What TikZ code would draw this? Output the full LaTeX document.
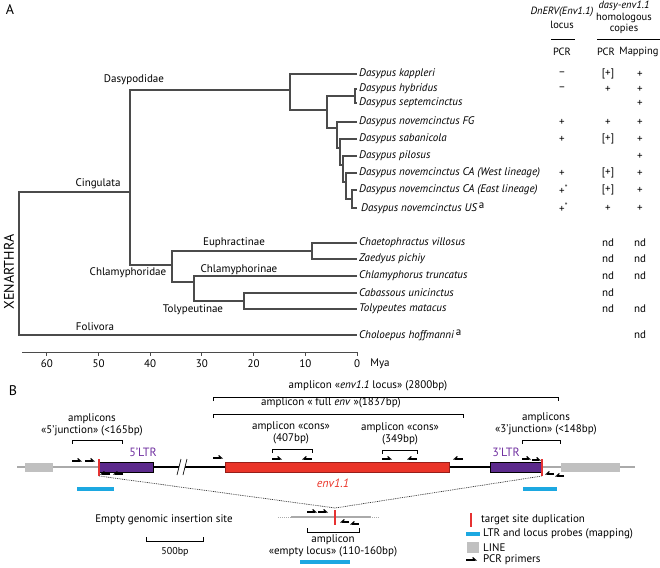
\documentclass[tikz,border=0pt]{standalone}
\usepackage{fontspec}
\setmainfont{PT Sans}
\usetikzlibrary{arrows.meta}
\definecolor{treegray}{RGB}{75,75,75}
\definecolor{ltrpurple}{RGB}{92,42,140}
\definecolor{ltrtext}{RGB}{112,48,160}
\definecolor{envred}{RGB}{234,52,40}
\definecolor{envedge}{RGB}{150,30,25}
\definecolor{probeblue}{RGB}{28,168,225}
\definecolor{linegray}{RGB}{192,192,192}
\definecolor{flankgray}{RGB}{170,170,170}
\definecolor{tsdred}{RGB}{230,50,50}
\begin{document}
\begin{tikzpicture}[x=1pt,y=-1pt,
  every node/.style={inner sep=0pt, font=\fontsize{11}{12.5}\selectfont},
  branch/.style={draw=treegray, line width=1.1pt},
  tip/.style={anchor=west, font=\fontsize{11}{12.5}\selectfont\itshape},
  hdr/.style={font=\fontsize{10.5}{12}\selectfont},
  big/.style={font=\fontsize{14}{16}\selectfont},
  rulestyle/.style={draw=black, line width=0.7pt},
  bracket/.style={draw=black, line width=0.8pt},
  primer/.style={line width=1.2pt, -{Straight Barb[harpoon,length=2.8pt,width=5pt]}},
  rprimer/.style={line width=1.2pt, -{Straight Barb[harpoon,swap,length=2.8pt,width=5pt]}},
  flank/.style={draw=flankgray, line width=1.5pt},
  core/.style={draw=black, line width=2.4pt},
  ltrbox/.style={draw=black, line width=0.5pt, fill=ltrpurple},
  envbox/.style={draw=envedge, line width=0.5pt, fill=envred},
  probe/.style={draw=probeblue, line width=3.3pt},
  tsd/.style={draw=tsdred, line width=1.2pt},
  dotline/.style={draw=black!80, line width=0.7pt, dash pattern=on 0.9pt off 0.9pt},
  ltrlabel/.style={text=ltrtext, font=\fontsize{12}{14}\selectfont},
]
\useasboundingbox (0,0) rectangle (660,567);

% ---------------- Panel A ----------------
\node[big] (labA) at (10,10) {A};

% headers
\node[hdr] (h1) at (562,12) {\itshape DnERV(Env1.1)};
\node[hdr] (h2) at (562,25) {locus};
\coordinate (r1a) at (551,39); \coordinate (r1b) at (575,39);
\draw[rulestyle] (r1a) -- (r1b);
\node[hdr] (h3) at (562,52) {PCR};
\node[hdr] (h4) at (624,6) {\itshape dasy-env1.1};
\node[hdr] (h5) at (624,18) {homologous};
\node[hdr] (h6) at (624,29) {copies};
\coordinate (r2a) at (597,39); \coordinate (r2b) at (660,39);
\draw[rulestyle] (r2a) -- (r2b);
\node[hdr] (h7) at (606,52) {PCR};
\node[hdr] (h8) at (639,52) {Mapping};

% tips
\foreach \n/\y in {1/74,2/89,3/103,4/122,5/139,6/156,7/173,8/190,9/208,10/243,11/259,12/276,13/293,14/309,15/335}
  \coordinate (t\n) at (357,\y);
\node[tip] (l1) at (359,74) {Dasypus kappleri};
\node[tip] (l2) at (359,89) {Dasypus hybridus};
\node[tip] (l3) at (359,103) {Dasypus septemcinctus};
\node[tip] (l4) at (359,122) {Dasypus novemcinctus FG};
\node[tip] (l5) at (359,139) {Dasypus sabanicola};
\node[tip] (l6) at (359,156) {Dasypus pilosus};
\node[tip] (l7) at (359,173) {Dasypus novemcinctus CA (West lineage)};
\node[tip] (l8) at (359,190) {Dasypus novemcinctus CA (East lineage)};
\node[tip] (l9) at (361,208) {Dasypus novemcinctus US\,\raisebox{0.6ex}{\upshape a}};
\node[tip] (l10) at (359,243) {Chaetophractus villosus};
\node[tip] (l11) at (359,259) {Zaedyus pichiy};
\node[tip] (l12) at (359,276) {Chlamyphorus truncatus};
\node[tip] (l13) at (359,293) {Cabassous unicinctus};
\node[tip] (l14) at (359,309) {Tolypeutes matacus};
\node[tip] (l15) at (359,335) {Choloepus hoffmanni\,\raisebox{0.6ex}{\upshape a}};

% internal nodes
\coordinate (nF) at (352,199);
\coordinate (nE) at (346,182);
\coordinate (nD) at (343,165);
\coordinate (nC) at (340,148);
\coordinate (nB) at (337,128);
\coordinate (nHS) at (355,96);
\coordinate (nA) at (327,110);
\coordinate (nDas) at (290,90);
\coordinate (nEu) at (312,251);
\coordinate (nTo) at (244,301);
\coordinate (nCm) at (194,282);
\coordinate (nCh) at (172,265);
\coordinate (nCi) at (130,192);
\coordinate (nRoot) at (19,260);

\draw[branch] (t8) -| (nF) |- (t9);
\draw[branch] (t7) -| (nE) |- (nF);
\draw[branch] (t6) -| (nD) |- (nE);
\draw[branch] (t5) -| (nC) |- (nD);
\draw[branch] (t4) -| (nB) |- (nC);
\draw[branch] (t2) -| (nHS) |- (t3);
\draw[branch] (nHS) -| (nA) |- (nB);
\draw[branch] (t1) -| (nDas) |- (nA);
\draw[branch] (t10) -| (nEu) |- (t11);
\draw[branch] (t13) -| (nTo) |- (t14);
\draw[branch] (t12) -| (nCm) |- (nTo);
\draw[branch] (nEu) -| (nCh) |- (nCm);
\draw[branch] (nDas) -| (nCi) |- (nCh);
\draw[branch] (nCi) -| (nRoot) |- (t15);

% clade labels
\node (cDas) at (134,80) {Dasypodidae};
\node (cCin) at (98,184) {Cingulata};
\node (cEu) at (234,243) {Euphractinae};
\node (cChd) at (128,273) {Chlamyphoridae};
\node (cChn) at (239,270) {Chlamyphorinae};
\node (cTol) at (193,310) {Tolypeutinae};
\node (cFol) at (95,327) {Folivora};
\node[rotate=90, font=\fontsize{14}{16}\selectfont] (xen) at (9,272) {XENARTHRA};

% table values
\foreach \y/\a/\b/\c [count=\i] in {74/{--}/{[+]}/+, 89/{--}/+/+, 103/{}/{}/+, 122/+/+/+, 139/+/{[+]}/+,
   156/{}/{}/+, 173/+/{[+]}/+, 190/{+\rlap{\textsuperscript{*}}}/{[+]}/+, 208/{+\rlap{\textsuperscript{*}}}/+/+,
   243/{}/nd/nd, 259/{}/nd/nd, 276/{}/nd/nd, 293/{}/nd/{}, 309/{}/nd/nd, 335/{}/{}/nd} {
  \node (va\i) at (562,\y) {\a};
  \node (vb\i) at (608,\y) {\b};
  \node (vc\i) at (640,\y) {\ifx\c+\textbf{+}\else\c\fi};
}

% axis
\coordinate (ax0) at (22,352); \coordinate (ax1) at (357,352);
\draw[draw=treegray, line width=1pt] (ax0) -- (ax1);
\foreach \v in {0,10,...,60} {
  \pgfmathsetmacro\xx{357-5.17*\v}
  \draw[draw=treegray, line width=0.9pt] (\xx,352) -- (\xx,356);
  \node (tk\v) at (\xx,364) {\v};
}
\node (mya) at (380,364) {Mya};

% ---------------- Panel B ----------------
\node[big] (labB) at (13,391) {B};

% flanks and LINE boxes
\coordinate (fl0) at (17,467); \coordinate (l5e) at (99,467);
\draw[flank] (fl0) -- (l5e);
\fill[linegray] (25,463) rectangle (53,472);
\coordinate (l3e) at (542,467); \coordinate (fr1) at (635,467);
\draw[flank] (l3e) -- (fr1);
\fill[linegray] (561,463) rectangle (620,472);

% core
\coordinate (c1) at (153,467); \coordinate (c2) at (225,467);
\coordinate (c3) at (449,467); \coordinate (c4) at (490,467);
\draw[core] (c1) -- (c2);
\draw[core] (c3) -- (c4);
\draw[ltrbox] (99,462) rectangle (153,472);
\draw[envbox] (225,462) rectangle (449,472);
\draw[ltrbox] (490,462) rectangle (542,472);
\draw[tsd] (99,459) -- (99,476);
\draw[tsd] (542,459) -- (542,476);
% break marks
\fill[white] (181,459) -- (187,459) -- (183,475) -- (177,475) -- cycle;
\draw[line width=0.7pt] (177,475) -- (181,459);
\draw[line width=0.7pt] (183,475) -- (187,459);

\node[ltrlabel] (t5ltr) at (143,452) {5’LTR};
\node[ltrlabel] (t3ltr) at (506,452) {3’LTR};
\node[text=envred, font=\fontsize{12}{14}\selectfont\itshape] (envlab) at (333,483) {env1.1};

% probes
\draw[probe] (77,489) -- (114,489);
\draw[probe] (523,489) -- (557,489);

% primers
\draw[primer] (72,461) -- (82,461);
\draw[primer] (85,461) -- (95,461);
\draw[rprimer] (110,474) -- (100,474);
\draw[rprimer] (123,474) -- (113,474);
\draw[primer] (213,458) -- (223,458);
\draw[primer] (272,459) -- (282,459);
\draw[rprimer] (312,459) -- (302,459);
\draw[primer] (382,459) -- (392,459);
\draw[rprimer] (417,459) -- (407,459);
\draw[rprimer] (463,459) -- (453,459);
\draw[primer] (522,459) -- (531,459);
\draw[primer] (532,460) -- (541,460);
\draw[rprimer] (554,474) -- (545,474);
\draw[rprimer] (564,476) -- (555,476);

% brackets
\draw[bracket] (213,401) -- (213,397) -- (558,397) -- (558,401);
\node (amp1) at (368,386) {amplicon «\textit{env1.1} locus» (2800bp)};
\draw[bracket] (213,418) -- (213,414) -- (463,414) -- (463,418);
\node (amp2) at (331,403) {amplicon « full \textit{env} »(1837bp)};
\draw[bracket] (72,444) -- (72,440) -- (122,440) -- (122,444);
\node[align=center] (amp3) at (92,425) {amplicons\\«5’junction» (<165bp)};
\draw[bracket] (272,453) -- (272,449) -- (312,449) -- (312,453);
\node[align=center] (amp4) at (291,433) {amplicon «cons»\\(407bp)};
\draw[bracket] (382,454) -- (382,450) -- (417,450) -- (417,454);
\node[align=center] (amp5) at (400,434) {amplicon «cons»\\(349bp)};
\draw[bracket] (522,444) -- (522,440) -- (560,440) -- (560,444);
\node[align=center] (amp6) at (546,424) {amplicons\\«3’junction» (<148bp)};

% empty site
\coordinate (conv) at (335,508);
\draw[dotline] (99,476) -- (conv) -- (542,476);
\draw[draw=flankgray, line width=0.9pt, dash pattern=on 1pt off 1pt] (278,517) -- (380,517);
\draw[draw=flankgray, line width=1.5pt] (291,517) -- (371,517);
\draw[tsd] (335,510) -- (335,525);
\draw[primer] (307,512) -- (317,512);
\draw[primer] (318,512) -- (328,512);
\draw[rprimer] (349,522) -- (340,522);
\draw[rprimer] (359,524) -- (350,524);
\draw[bracket] (307,528) -- (307,532) -- (359,532) -- (359,528);
\node[align=center] (amp7) at (333,546) {amplicon\\«empty locus» (110-160bp)};
\draw[probe] (300,562) -- (350,562);
\node (empty) at (164,520) {Empty genomic insertion site};

% scale bar
\draw[line width=0.7pt] (146,537) -- (146,541) -- (203,541) -- (203,537);
\node[font=\fontsize{10}{12}\selectfont] (sb) at (175,552) {500bp};

% legend
\draw[tsd] (471,513) -- (471,527);
\node[anchor=west] (lg1) at (481,520) {target site duplication};
\draw[probe] (466,534) -- (480,534);
\node[anchor=west] (lg2) at (483,534) {LTR and locus probes (mapping)};
\fill[linegray] (467,542) rectangle (479,553);
\node[anchor=west] (lg3) at (483,548) {LINE};
\draw[primer] (466,560) -- (477,560);
\node[anchor=west] (lg4) at (483,560) {PCR primers};
\end{tikzpicture}
\end{document}
